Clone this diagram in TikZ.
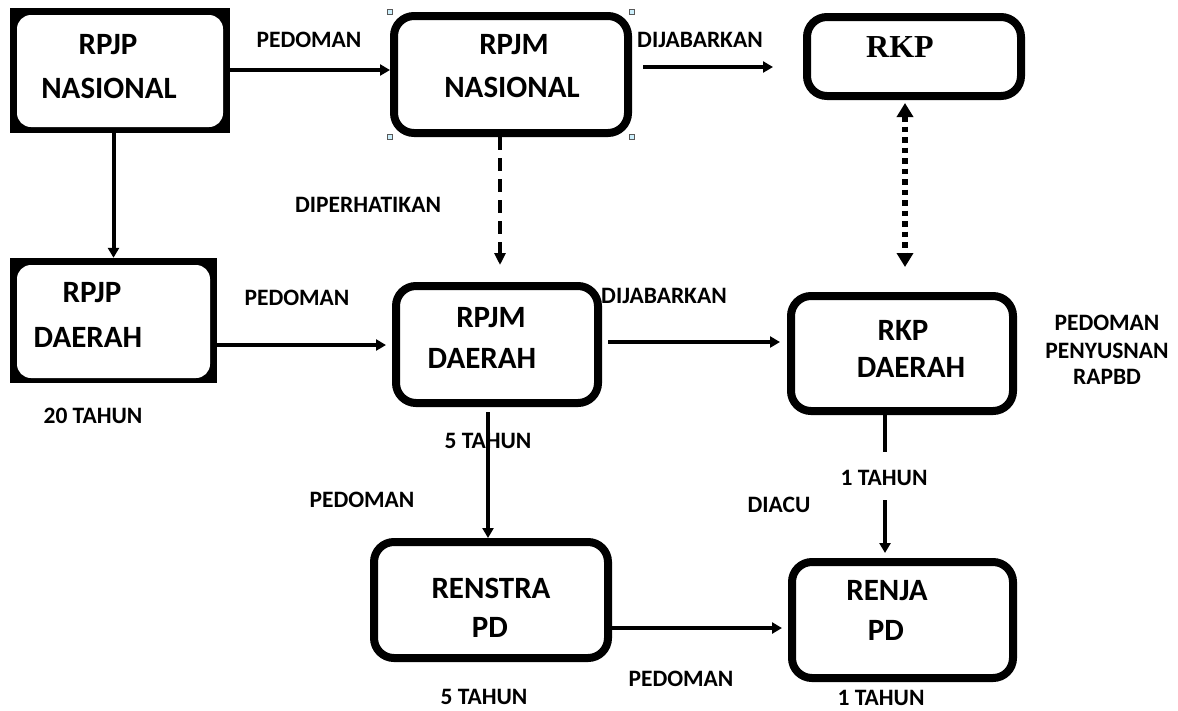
\documentclass[tikz,border=0pt]{standalone}
\usepackage{fontspec}
\setmainfont{Carlito}
\newfontfamily\rkpfont{Liberation Serif}
\usetikzlibrary{arrows.meta}

\tikzset{
  box/.style={draw, line width=8pt, rounded corners=20pt, fill=white, inner sep=0pt},
  frameouter/.style={fill=black, inner sep=0pt},
  frameinner/.style={fill=white, rounded corners=14pt, inner sep=0pt},
  boxtxt/.style={anchor=base, inner sep=0pt, font=\fontsize{31}{31}\selectfont\bfseries},
  lbl/.style={anchor=base, inner sep=0pt, font=\fontsize{23.5}{23.5}\selectfont\bfseries},
  conn/.style={line width=4pt, -{Triangle[length=10pt,width=11pt]}},
  plain/.style={line width=4pt},
  dashconn/.style={line width=4pt, dash pattern=on 13pt off 8pt, -{Triangle[length=12pt,width=11pt]}},
  dotconn/.style={line width=5.5pt, dash pattern=on 5.5pt off 5pt,
    {Triangle[length=14pt,width=16pt]}-{Triangle[length=14pt,width=16pt]}},
  handle/.style={draw=gray!70!black, line width=0.5pt, fill=cyan!20, minimum size=5pt, inner sep=0pt}
}

\begin{document}
\begin{tikzpicture}[x=1pt,y=-1pt]
\useasboundingbox[fill=white] (0,0) rectangle (1178,710);

% --- national level ---
\node[frameouter, minimum width=220pt, minimum height=125pt] (rpjpn) at (120,70.5) {};
\node[frameinner, minimum width=206pt, minimum height=112pt] (rpjpnin) at (120,71) {};
\node[boxtxt] (t-rpjpn1) at (108,54) {RPJP};
\node[boxtxt] (t-rpjpn2) at (109,98) {NASIONAL};

\node[box, minimum width=234pt, minimum height=117pt] (rpjmn) at (511,74.5) {};
\foreach \c [count=\i] in {north west,north east,south west,south east}
  \node[handle] (h\i) at (rpjmn.\c) {};
\node[boxtxt] (t-rpjmn1) at (514,54) {RPJM};
\node[boxtxt] (t-rpjmn2) at (512,97) {NASIONAL};

\node[box, minimum width=214pt, minimum height=79pt] (rkp) at (914,56.5) {};
\node[anchor=base, inner sep=0pt, font=\rkpfont\fontsize{32}{32}\selectfont\bfseries] (t-rkp) at (900,57) {RKP};

% --- regional level ---
\node[frameouter, minimum width=207pt, minimum height=125pt] (rpjpd) at (113.5,320.5) {};
\node[frameinner, minimum width=193pt, minimum height=113pt] (rpjpdin) at (113.5,321.5) {};
\node[boxtxt] (t-rpjpd1) at (92,302) {RPJP};
\node[boxtxt] (t-rpjpd2) at (88,347) {DAERAH};

\node[box, minimum width=202pt, minimum height=117pt] (rpjmd) at (497,344.5) {};
\node[boxtxt] (t-rpjmd1) at (491,327) {RPJM};
\node[boxtxt] (t-rpjmd2) at (482,368) {DAERAH};

\node[box, minimum width=222pt, minimum height=115pt] (rkpd) at (902,353.5) {};
\node[boxtxt] (t-rkpd1) at (903,340) {RKP};
\node[boxtxt] (t-rkpd2) at (911,377) {DAERAH};

% --- agency level ---
\node[box, minimum width=234pt, minimum height=116pt] (renstra) at (491,600) {};
\node[boxtxt] (t-renstra1) at (491,598) {RENSTRA};
\node[boxtxt] (t-renstra2) at (490,637) {PD};

\node[box, minimum width=221pt, minimum height=116pt] (renja) at (902.5,620) {};
\node[boxtxt] (t-renja1) at (887,600) {RENJA};
\node[boxtxt] (t-renja2) at (886,640) {PD};

% --- labels ---
\node[lbl] (l-ped1) at (309,47) {PEDOMAN};
\node[lbl] (l-dij1) at (700,47) {DIJABARKAN};
\node[lbl] (l-diper) at (368,212) {DIPERHATIKAN};
\node[lbl] (l-ped2) at (297,305) {PEDOMAN};
\node[lbl] (l-dij2) at (664,303) {DIJABARKAN};
\node[lbl] (l-20th) at (93,423) {20 TAHUN};
\node[lbl] (l-5th1) at (488,448) {5 TAHUN};
\node[lbl] (l-ped3) at (362,507) {PEDOMAN};
\node[lbl] (l-diacu) at (779,512) {DIACU};
\node[lbl] (l-1th1) at (884,485) {1 TAHUN};
\node[lbl] (l-rapbd1) at (1107,330) {PEDOMAN};
\node[lbl] (l-rapbd2) at (1107,358) {PENYUSNAN};
\node[lbl] (l-rapbd3) at (1107,384) {RAPBD};
\node[lbl] (l-5th2) at (484,704) {5 TAHUN};
\node[lbl] (l-ped4) at (681,686) {PEDOMAN};
\node[lbl] (l-1th2) at (881,705) {1 TAHUN};

% --- free ends of connectors ---
\coordinate (dij1a) at (643,67);
\coordinate (dij1b) at (773,67);
\coordinate (dashend) at (500,265);
\coordinate (dotend) at (905,267);
\coordinate (rkpdmid) at (885,452);
\coordinate (renjain) at (885,500);

% --- connectors ---
\draw[conn] (rpjpn.east |- 0,70) -- (rpjmn.west |- 0,70);
\draw[conn] (dij1a) -- (dij1b);
\draw[conn] (rpjpn.south -| rpjpd.north) -- (rpjpd.north);
\draw[dashconn] (rpjmn.south -| dashend) -- (dashend);
\draw[dotconn, shorten <=3pt] (rkp.south -| dotend) -- (dotend);
\draw[conn, shorten >=6pt] (rpjpd.east |- 0,345) -- (rpjmd.west |- 0,345);
\draw[conn, shorten <=6pt, shorten >=7pt] (rpjmd.east |- 0,342) -- (rkpd.west |- 0,342);
\draw[conn, shorten <=5pt] (rpjmd.south -| 488,0) -- (renstra.north -| 488,0);
\draw[plain] (rkpd.south -| rkpdmid) -- (rkpdmid);
\draw[conn, shorten >=5pt] (renjain) -- (renja.north -| renjain);
\draw[conn, shorten >=6pt] (renstra.east |- 0,628) -- (renja.west |- 0,628);
\end{tikzpicture}
\end{document}
